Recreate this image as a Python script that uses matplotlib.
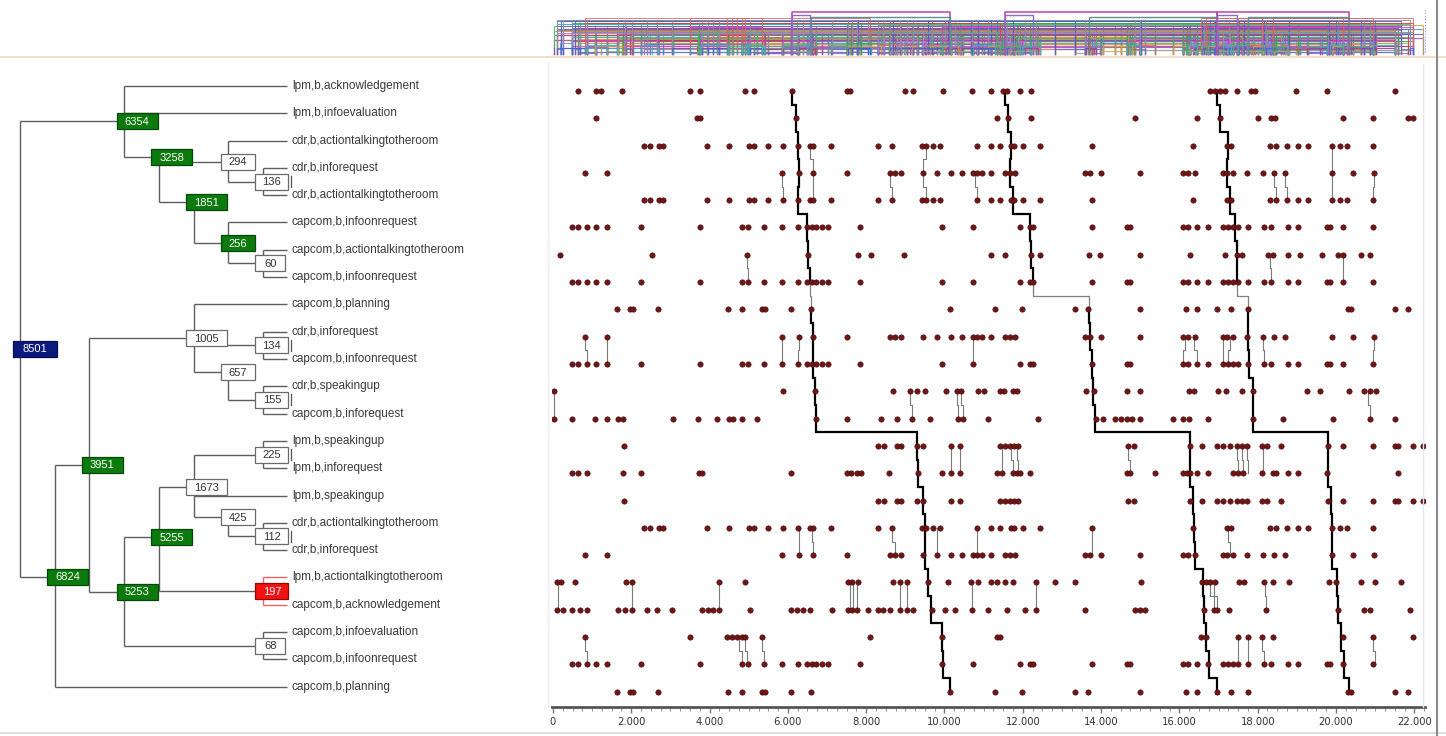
import matplotlib
matplotlib.use('Agg')
import matplotlib.pyplot as plt
from matplotlib.patches import Rectangle
from matplotlib.lines import Line2D
from matplotlib.ticker import FuncFormatter, MultipleLocator
import numpy as np

# ---------------- data ----------------
row_labels = [
    "lpm,b,acknowledgement", "lpm,b,infoevaluation", "cdr,b,actiontalkingtotheroom",
    "cdr,b,inforequest", "cdr,b,actiontalkingtotheroom", "capcom,b,infoonrequest",
    "capcom,b,actiontalkingtotheroom", "capcom,b,infoonrequest", "capcom,b,planning",
    "cdr,b,inforequest", "capcom,b,infoonrequest", "cdr,b,speakingup",
    "capcom,b,inforequest", "lpm,b,speakingup", "lpm,b,inforequest", "lpm,b,speakingup",
    "cdr,b,actiontalkingtotheroom", "cdr,b,inforequest", "lpm,b,actiontalkingtotheroom",
    "capcom,b,acknowledgement", "capcom,b,infoevaluation", "capcom,b,infoonrequest",
    "capcom,b,planning",
]

# event times (thousands) per event type
lpm_ack = [0.65, 1.10, 1.22, 1.77, 3.50, 3.75, 4.90, 5.14, 6.10, 7.50, 7.59, 8.99, 9.20, 9.97,
           10.69, 11.20, 11.50, 11.59, 11.93, 12.22, 16.78, 16.91, 17.03, 17.16, 17.46, 17.84,
           17.93, 18.99, 19.76, 21.50]
lpm_infoeval = [1.09, 3.67, 3.75, 6.20, 11.33, 11.63, 12.22, 14.86, 16.44, 17.03, 18.01, 18.35,
                18.44, 20.18, 20.95, 21.84, 21.97]
cdr_action = [2.33, 2.48, 2.71, 2.82, 3.94, 4.50, 5.01, 5.13, 5.50, 5.88, 6.27, 6.56, 6.65, 7.10,
              8.31, 8.65, 9.42, 9.54, 9.71, 9.88, 10.82, 11.20, 11.42, 11.71, 11.77, 12.01, 12.44,
              13.76, 16.35, 17.22, 17.31, 18.31, 18.48, 18.74, 19.04, 19.29, 19.89, 20.10, 20.29,
              20.95]
cdr_inforeq = [0.82, 1.37, 5.86, 6.29, 6.65, 7.50, 8.61, 8.73, 8.89, 9.46, 9.80, 10.16, 10.45,
               10.73, 10.84, 10.95, 11.20, 11.54, 11.67, 11.80, 13.59, 13.71, 14.01, 14.99, 16.08,
               16.23, 16.40, 17.12, 17.22, 17.38, 17.73, 18.14, 18.41, 18.70, 19.89, 20.44, 20.98]
capcom_infoon = [0.49, 0.63, 0.86, 1.09, 1.37, 2.25, 3.75, 4.84, 4.97, 5.39, 5.84, 6.27, 6.48,
                 6.61, 6.73, 6.86, 7.03, 7.84, 9.93, 10.73, 11.93, 12.18, 12.25, 13.76, 14.65,
                 14.74, 16.10, 16.23, 16.44, 16.74, 17.12, 17.25, 17.38, 17.50, 17.76, 18.16,
                 18.35, 18.78, 19.04, 19.76, 19.84, 20.18, 20.95]
capcom_action = [0.18, 2.54, 4.95, 6.52, 7.80, 8.12, 8.97, 11.20, 11.54, 12.22, 12.44, 13.70,
                 13.96, 14.99, 16.27, 17.16, 17.46, 17.59, 18.27, 18.38, 18.78, 19.08, 19.63,
                 20.06, 20.18, 20.65, 20.87]
capcom_planning = [1.63, 1.97, 2.05, 2.69, 4.48, 4.82, 5.33, 5.41, 6.08, 6.59, 10.14, 11.30,
                   11.97, 13.33, 13.67, 14.99, 16.18, 16.44, 16.95, 17.33, 17.76, 20.30, 20.38,
                   21.50, 21.84]
cdr_speak = [0.03, 5.87, 6.69, 8.69, 9.12, 9.31, 9.50, 10.05, 10.33, 10.42, 10.85, 11.02, 11.42,
             11.52, 11.74, 11.84, 13.61, 13.82, 14.67, 14.99, 16.25, 16.37, 16.98, 17.19, 17.59,
             17.89, 19.25, 19.59, 20.34, 20.71, 20.87, 21.02]
capcom_inforeq = [0.03, 0.48, 1.07, 1.37, 1.65, 1.80, 3.07, 3.71, 4.18, 4.49, 4.61, 4.82, 5.22,
                  6.73, 7.50, 8.39, 8.78, 9.16, 9.63, 10.35, 10.48, 11.12, 12.40, 13.87, 14.06,
                  14.35, 14.52, 14.67, 14.80, 14.99, 15.83, 16.10, 16.25, 16.74, 17.89, 18.65,
                  19.93, 20.87, 21.50]
lpm_speak = [1.81, 8.29, 8.46, 8.78, 8.89, 9.31, 9.46, 10.16, 10.39, 11.42, 11.54, 11.67, 11.77,
             11.88, 14.69, 14.84, 16.27, 16.57, 16.95, 17.12, 17.29, 17.46, 17.59, 17.72, 18.12,
             18.23, 18.59, 19.80, 20.17, 20.95, 21.50, 21.59, 21.96, 22.23]
lpm_inforeq = [0.49, 0.63, 0.86, 1.80, 2.25, 3.73, 3.80, 6.07, 7.50, 7.61, 7.76, 7.87, 8.58,
               9.33, 9.93, 10.16, 10.39, 11.35, 11.46, 11.76, 11.86, 11.93, 12.18, 14.65, 14.74,
               15.37, 16.10, 16.20, 16.27, 16.44, 16.74, 17.38, 17.50, 17.63, 18.12, 18.38,
               18.48, 18.78, 19.04, 19.76, 21.59]
lpm_action = [0.10, 0.20, 0.55, 1.86, 2.03, 4.24, 4.90, 7.53, 7.64, 7.78, 8.69, 8.86, 9.03, 9.59,
              10.10, 10.68, 10.85, 11.20, 11.35, 11.54, 11.76, 12.35, 12.82, 13.33, 15.03, 16.57,
              16.68, 16.78, 16.91, 17.53, 17.65, 18.16, 18.40, 18.81, 19.83, 20.01, 20.65, 20.99,
              21.67]
capcom_ack = [0.09, 0.26, 0.48, 0.69, 0.86, 1.67, 1.84, 2.03, 2.39, 2.66, 3.03, 3.80, 3.97,
              4.09, 4.24, 5.03, 6.08, 6.22, 6.39, 6.56, 7.12, 7.53, 7.64, 7.76, 8.05, 8.31, 8.44,
              8.61, 8.86, 9.03, 9.20, 9.67, 10.01, 10.27, 10.69, 11.12, 11.59, 12.05, 12.35,
              13.59, 14.86, 14.99, 15.12, 16.63, 16.88, 16.97, 17.27, 18.21, 20.06, 20.71, 20.88,
              21.90]
capcom_infoeval = [0.82, 3.50, 4.44, 4.56, 4.69, 4.82, 4.90, 5.35, 8.10, 9.93, 11.33, 11.42,
                   16.54, 16.68, 17.50, 17.76, 18.10, 18.40, 20.17, 20.95, 21.96]

row_events = [lpm_ack, lpm_infoeval, cdr_action, cdr_inforeq, cdr_action, capcom_infoon,
              capcom_action, capcom_infoon, capcom_planning, cdr_inforeq, capcom_infoon,
              cdr_speak, capcom_inforeq, lpm_speak, lpm_inforeq, lpm_speak, cdr_action,
              cdr_inforeq, lpm_action, capcom_ack, capcom_infoeval, capcom_infoon,
              capcom_planning]
event_types = [lpm_ack, lpm_infoeval, cdr_action, cdr_inforeq, capcom_infoon, capcom_action,
               capcom_planning, cdr_speak, capcom_inforeq, lpm_speak, lpm_inforeq, lpm_action,
               capcom_ack, capcom_infoeval]

# occurrences of the full pattern (time per row, thousands)
path_1 = [6.10, 6.20, 6.27, 6.29, 6.27, 6.48, 6.52, 6.56, 6.59, 6.65, 6.65, 6.69, 6.73, 9.31,
          9.33, 9.46, 9.49, 9.50, 9.59, 9.65, 9.93, 9.97, 10.14]
path_2 = [11.54, 11.63, 11.71, 11.67, 11.74, 12.18, 12.22, 12.25, 13.69, 13.71, 13.76, 13.80,
          13.84, 16.27, 16.27, 16.34, 16.37, 16.40, 16.61, 16.64, 16.69, 16.76, 16.95]
path_3 = [16.95, 17.03, 17.25, 17.22, 17.29, 17.42, 17.46, 17.46, 17.76, 17.76, 17.78, 17.89,
          17.89, 19.80, 19.80, 19.86, 19.89, 19.91, 20.03, 20.06, 20.14, 20.20, 20.34]
paths = [path_1, path_2, path_3]

# occurrences of sibling pairs: (upper row, time in upper row, time in row below)
pair_links = [
    (2, 6.56, 6.65), (3, 6.65, 6.65), (2, 9.54, 9.46), (3, 9.46, 9.54), (3, 5.86, 5.88),
    (3, 8.61, 8.65), (3, 10.79, 10.82), (6, 4.95, 4.97), (9, 0.82, 0.86), (9, 1.37, 1.37),
    (9, 5.86, 5.84), (9, 6.29, 6.27), (9, 10.73, 10.73), (2, 19.89, 19.89), (3, 19.89, 19.89),
    (3, 18.41, 18.48), (3, 18.70, 18.74), (3, 20.98, 20.95), (6, 18.31, 18.35),
    (6, 20.18, 20.18), (9, 16.14, 16.10), (9, 16.37, 16.44), (9, 17.12, 17.12),
    (9, 17.29, 17.25), (9, 18.14, 18.16), (9, 20.98, 20.95), (11, 0.03, 0.03),
    (11, 9.12, 9.16), (11, 10.33, 10.35), (11, 10.42, 10.48), (13, 10.16, 10.16),
    (13, 10.39, 10.39), (16, 6.29, 6.29), (16, 6.61, 6.65), (16, 8.65, 8.73), (16, 9.80, 9.80),
    (16, 10.82, 10.84), (18, 0.14, 0.14), (18, 2.03, 2.03), (18, 4.24, 4.24), (18, 7.58, 7.58),
    (18, 7.67, 7.67), (18, 7.76, 7.76), (18, 8.86, 8.86), (18, 9.03, 9.03), (18, 10.69, 10.69),
    (20, 0.82, 0.86), (20, 4.75, 4.82), (20, 4.90, 4.95), (20, 5.35, 5.39), (11, 20.82, 20.87),
    (13, 11.46, 11.46), (13, 11.71, 11.76), (13, 11.84, 11.88), (13, 14.69, 14.74),
    (13, 17.46, 17.50), (13, 17.59, 17.63), (13, 17.72, 17.76), (13, 18.14, 18.14),
    (16, 13.76, 13.76), (16, 17.25, 17.29), (18, 12.35, 12.35), (18, 16.78, 16.88),
    (18, 16.88, 16.97), (18, 18.18, 18.21), (20, 17.50, 17.50), (20, 17.76, 17.76),
    (20, 18.10, 18.16), (20, 20.95, 20.99),
]

# dendrogram nodes
node_labels = ['8501', '6354', '3258', '294', '136', '1851', '256', '60', '6824', '3951', '1005',
               '134', '657', '155', '5253', '5255', '1673', '225', '425', '112', '197', '68']
node_depth = [0, 3, 4, 6, 7, 5, 6, 7, 1, 2, 5, 7, 6, 7, 3, 4, 5, 7, 6, 7, 7, 7]
node_row = [9.63, 1.3, 2.6, 2.78, 3.5, 4.25, 5.75, 6.5, 17.98, 13.88, 9.23, 9.5, 10.48, 11.5,
            18.53, 16.52, 14.69, 13.5, 15.8, 16.5, 18.5, 20.5]
node_kind = ['root', 'green', 'green', 'white', 'white', 'green', 'green', 'white', 'green',
             'green', 'white', 'white', 'white', 'white', 'green', 'green', 'white', 'white',
             'white', 'white', 'red', 'white']
node_children = [['6354', '6824'], ['L0', 'L1', '3258'], ['294', '1851'], ['L2', '136'],
                 ['L3', 'L4'], ['256'], ['L5', '60'], ['L6', 'L7'], ['3951', 'L22'],
                 ['1005', '5253'], ['L8', '134', '657'], ['L9', 'L10'], ['155'], ['L11', 'L12'],
                 ['5255', '68'], ['1673', '197'], ['225', 'L15', '425'], ['L13', 'L14'],
                 ['112'], ['L16', 'L17'], ['L18', 'L19'], ['L20', 'L21']]
bar_marks = ['136', '134', '155', '225', '112']

tick_values = list(range(0, 22001, 2000))

# ---------------- layout ----------------
W, H = 1446, 736
fig = plt.figure(figsize=(W / 100, H / 100), dpi=100)
fig.patch.set_facecolor('white')


def fx(px):
    return px / W


def fy(py):
    return 1 - py / H


FONT = ['Liberation Sans', 'DejaVu Sans']

# ---------- dendrogram ----------
axT = fig.add_axes([0, fy(710), fx(545), (710 - 62) / H])
axT.set_xlim(0, 545)
axT.set_ylim(22.857, -0.879)
axT.axis('off')

X0, STEP = 20, 34.7
LEAF_END, LABEL_X = 287, 292
BOX_H = 16 / 27.3


def dx(d):
    return X0 + STEP * d


idx = {n: i for i, n in enumerate(node_labels)}
line_c = '#5e5e5e'
for i, name in enumerate(node_labels):
    x = dx(node_depth[i])
    red = node_kind[i] == 'red'
    lc = '#f06060' if red else line_c
    rows = [node_row[i]]
    for ch in node_children[i]:
        if ch.startswith('L'):
            r = int(ch[1:])
            xe = LEAF_END
            c = lc
        else:
            j = idx[ch]
            r = node_row[j]
            xe = dx(node_depth[j])
            c = line_c
        rows.append(r)
        axT.plot([x, xe], [r, r], color=c, lw=1.0, zorder=1, solid_capstyle='butt')
    axT.plot([x, x], [min(rows), max(rows)], color=lc, lw=1.0, zorder=1,
             solid_capstyle='butt')

    style = {'root': ('#0c1a7e', '#06104a', 'white'),
             'green': ('#0c7a0c', '#05480a', 'white'),
             'red': ('#f21212', '#a00000', 'white'),
             'white': ('white', '#6a6a6a', '#333333')}[node_kind[i]]
    w = 13 + 7 * len(name) + (3 if node_kind[i] == 'root' else 0)
    if node_depth[i] == 7:
        w = 33 if len(name) == 3 else 30
    left = x - 7.5
    axT.add_patch(Rectangle((left, node_row[i] - BOX_H / 2), w, BOX_H, facecolor=style[0],
                            edgecolor=style[1], lw=0.9, zorder=3))
    axT.text(left + w / 2, node_row[i] + 0.02, name, ha='center', va='center', color=style[2],
             fontsize=8, family=FONT, zorder=4)
    if name in bar_marks:
        axT.plot([left + w + 2.5, left + w + 2.5], [node_row[i] - 0.2, node_row[i] + 0.2],
                 color='#555555', lw=0.9, zorder=4)

for r, lab in enumerate(row_labels):
    axT.text(LABEL_X, r, lab, ha='left', va='center', fontsize=8.5, color='#3a3a3a',
             family=FONT)

# ---------- main event plot ----------
XL = (-25, 22273)
axM = fig.add_axes([fx(552), fy(707), fx(1425 - 552), (707 - 62) / H])
axM.set_xlim(*XL)
axM.set_ylim(22.56, -1.06)
for s in ['top', 'left', 'right']:
    axM.spines[s].set_visible(False)
axM.spines['bottom'].set_linewidth(2)
axM.spines['bottom'].set_color('#555555')
axM.set_yticks([])
axM.set_xticks(tick_values)
axM.xaxis.set_minor_locator(MultipleLocator(250))
axM.xaxis.set_major_formatter(FuncFormatter(lambda v, p: f"{int(round(v)):,}".replace(',', '.')))
axM.tick_params(axis='x', which='major', length=4, width=1, color='#777777', pad=3,
                labelsize=7.2, labelcolor='#333333')
axM.tick_params(axis='x', which='minor', length=3, width=0.8, color='#999999')
axM.patch.set_alpha(0)

# sibling-pair links
for (r, t1, t2) in pair_links:
    m = r + 0.5
    axM.plot([t1 * 1000, t1 * 1000, t2 * 1000, t2 * 1000], [r, m, m, r + 1],
             color='#7a7a7a', lw=0.8, zorder=2)

# full-pattern occurrences
for p in paths:
    for k in range(len(p) - 1):
        m = k + 0.5
        gray = (k == 7)
        axM.plot([p[k] * 1000, p[k] * 1000, p[k + 1] * 1000, p[k + 1] * 1000],
                 [k, m, m, k + 1], color='#808080' if gray else 'black',
                 lw=0.9 if gray else 1.6, zorder=3, solid_joinstyle='miter')

# events
for r, ev in enumerate(row_events):
    axM.scatter(np.array(ev) * 1000, np.full(len(ev), r), s=15, c='#6e1616',
                edgecolors='#4a0808', linewidths=0.4, zorder=4)

# ---------- top overview of occurrences ----------
axP = fig.add_axes([fx(552), fy(56), fx(1425 - 552), 48 / H])
axP.set_xlim(*XL)
axP.set_ylim(0, 48)
axP.axis('off')
top_colors = ['#9b4fc6', '#e040b8', '#3cab48', '#30b8c0', '#f09a30', '#3f63d8', '#d94040',
              '#8fb84a', '#909090', '#b070e0', '#4098e0', '#e06868', '#50b070', '#a84090',
              '#606cc0', '#c8a040']
n_col = len(top_colors)
for k, ev in enumerate(event_types):
    for lag, (lim, lw) in enumerate([(2.0, 0.9), (3.0, 0.8), (4.0, 0.75), (5.0, 0.7)], start=1):
        h = 4 + 1.55 * k + 4.5 * (lag - 1)
        if h > 40:
            h = h - 30
        col = top_colors[(k * 3 + lag * 5) % n_col]
        for a, b in zip(ev[:-lag], ev[lag:]):
            if b - a <= lim:
                axP.plot([a * 1000, a * 1000, b * 1000, b * 1000], [2.5, h, h, 2.5], color=col,
                         lw=lw, alpha=0.85)
# adjacent-row pairings (low, dense fringe)
for r in range(len(row_events) - 1):
    upper = np.array(row_events[r])
    lower = np.array(row_events[r + 1])
    col = top_colors[(r * 7) % n_col]
    h = 3.5 + (r % 8) * 1.6
    for a in upper:
        later = lower[(lower >= a) & (lower - a <= 0.8)]
        if later.size:
            b = later[0]
            axP.plot([a * 1000, a * 1000, b * 1000, b * 1000], [2.5, h, h, 2.5], color=col,
                     lw=0.8, alpha=0.8)
for i, p in enumerate(paths):
    axP.plot([p[0] * 1000, p[0] * 1000, p[-1] * 1000, p[-1] * 1000], [2.5, 44, 44, 2.5],
             color='#c040b0', lw=1.1)
    axP.plot([p[0] * 1000, p[0] * 1000, p[7] * 1000, p[7] * 1000], [2.5, 41, 41, 2.5],
             color='#8a6fc0', lw=1.0)
    axP.plot([p[8] * 1000, p[8] * 1000, p[-1] * 1000, p[-1] * 1000], [2.5, 39, 39, 2.5],
             color='#5f9090', lw=1.0)

# ---------- frame decorations ----------
fig.add_artist(Line2D([0, 1], [fy(57), fy(57)], color='#f6dccb', lw=1.5))
fig.add_artist(Line2D([0, 1], [fy(733), fy(733)], color='#d6d6d6', lw=1.2))
fig.add_artist(Line2D([fx(1437), fx(1437)], [0, 1], color='#8a8a8a', lw=1.5))
fig.add_artist(Line2D([fx(1423), fx(1423)], [fy(707), fy(64)], color='#e6e8f0', lw=1))
fig.add_artist(Line2D([fx(548), fx(548)], [fy(707), fy(62)], color='#eeeeee', lw=1))
fig.add_artist(Line2D([fx(1425), fx(1425)], [fy(52), fy(10)], color='#8090ff', lw=0.8,
                      ls=':'))

fig.savefig('out.png', dpi=100, facecolor='white')
